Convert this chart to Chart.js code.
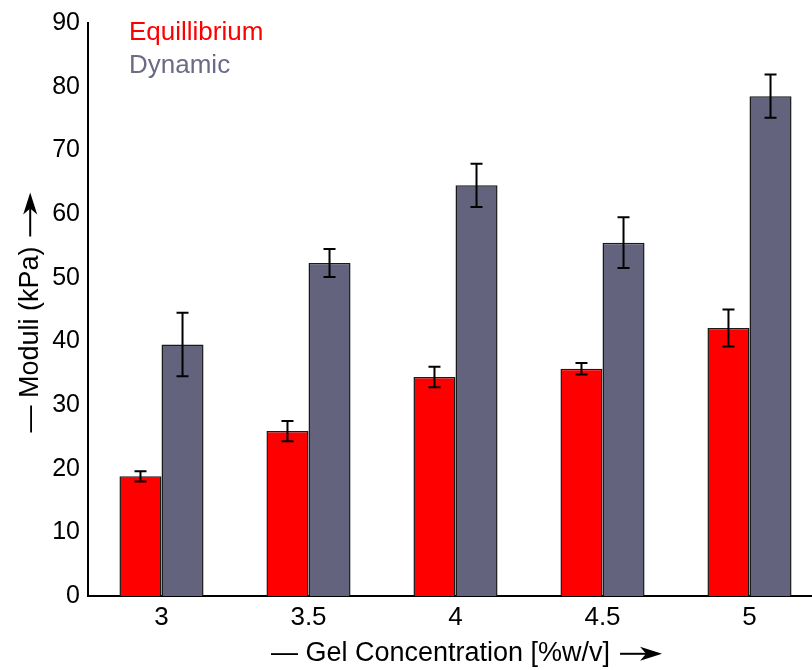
<!DOCTYPE html>
<html>
<head>
<meta charset="utf-8">
<script src="https://cdn.jsdelivr.net/npm/chart.js@4.4.0/dist/chart.umd.min.js"></script>
<style>
  html, body { margin: 0; padding: 0; background: #fff; overflow: hidden; }
  #wrap { position: relative; width: 826px; height: 670px; }
</style>
</head>
<body>
<div id="wrap"><canvas id="modChart"></canvas></div>
<script>
const concentrations = ["3", "3.5", "4", "4.5", "5"];
const equilibrium = [18.8, 25.9, 34.4, 35.7, 42.1];
const equilibriumErr = [0.8, 1.6, 1.6, 0.9, 2.9];
const dynamic = [39.5, 52.3, 64.5, 55.5, 78.5];
const dynamicErr = [5.0, 2.2, 3.4, 4.0, 3.4];
const yTicks = [0, 10, 20, 30, 40, 50, 60, 70, 80, 90];

const FONT = "'Liberation Sans', Arial, Helvetica, sans-serif";
const TITLE_SIZE = 27;
const xTitle = '    — Gel Concentration [%w/v]';
const yTitle = '— Moduli (kPa)';
const ARROW_GAP = '        '; // room left for the drawn arrow

// error bars drawn over each bar, using the chart's own scales
const errorBars = {
  id: 'errorBars',
  afterDatasetsDraw(chart) {
    const ctx = chart.ctx;
    const y = chart.scales.y;
    ctx.save();
    ctx.strokeStyle = '#000';
    ctx.lineWidth = 2;
    chart.data.datasets.forEach((ds, i) => {
      const meta = chart.getDatasetMeta(i);
      meta.data.forEach((bar, j) => {
        const v = ds.data[j], e = ds.errors[j];
        const top = y.getPixelForValue(v + e);
        const bot = y.getPixelForValue(v - e);
        const x = bar.x;
        ctx.beginPath();
        ctx.moveTo(x, top); ctx.lineTo(x, bot);
        ctx.moveTo(x - 6, top); ctx.lineTo(x + 6, top);
        ctx.moveTo(x - 6, bot); ctx.lineTo(x + 6, bot);
        ctx.stroke();
      });
    });
    ctx.restore();
  }
};

// text-only legend in the upper left of the plot
const textLegend = {
  id: 'textLegend',
  afterDraw(chart) {
    const ctx = chart.ctx;
    const a = chart.chartArea;
    ctx.save();
    ctx.font = '26px ' + FONT;
    ctx.textBaseline = 'middle';
    ctx.textAlign = 'left';
    chart.data.datasets.forEach((ds, i) => {
      ctx.fillStyle = ds.legendColor;
      ctx.fillText(ds.label, a.left + 41, 33 + i * 33);
    });
    ctx.restore();
  }
};

// arrow after each axis title
function drawArrow(ctx, len) {
  ctx.beginPath();
  ctx.moveTo(0, 0);
  ctx.lineTo(len - 14, 0);
  ctx.stroke();
  ctx.beginPath();
  ctx.moveTo(len, 0);
  ctx.lineTo(len - 22, -7);
  ctx.lineTo(len - 16, 0);
  ctx.lineTo(len - 22, 7);
  ctx.closePath();
  ctx.fill();
}

const titleArrows = {
  id: 'titleArrows',
  afterDraw(chart) {
    const ctx = chart.ctx;
    const xs = chart.scales.x, ys = chart.scales.y;
    ctx.save();
    ctx.font = TITLE_SIZE + 'px ' + FONT;
    ctx.strokeStyle = '#000';
    ctx.fillStyle = '#000';
    ctx.lineWidth = 2;
    const lh = TITLE_SIZE * 1.2;

    // x title
    let full = ctx.measureText(xTitle + ARROW_GAP).width;
    let vis = ctx.measureText(xTitle).width;
    let cx = (xs.left + xs.right) / 2;
    let cy = xs.bottom - lh / 2;
    ctx.save();
    ctx.translate(cx - full / 2 + vis + 10, cy);
    drawArrow(ctx, 42);
    ctx.restore();

    // y title (rotated, reading bottom to top)
    full = ctx.measureText(yTitle + ARROW_GAP).width;
    vis = ctx.measureText(yTitle).width;
    cx = ys.left + 14 + lh / 2;
    cy = (ys.top + ys.bottom) / 2;
    ctx.save();
    ctx.translate(cx, cy + full / 2 - vis - 10);
    ctx.rotate(-Math.PI / 2);
    drawArrow(ctx, 44);
    ctx.restore();

    ctx.restore();
  }
};

new Chart(document.getElementById('modChart'), {
  type: 'bar',
  data: {
    labels: concentrations,
    datasets: [{
      label: 'Equillibrium',
      data: equilibrium,
      errors: equilibriumErr,
      backgroundColor: '#ff0000',
      borderColor: '#1a1a1a',
      legendColor: '#ff0000',
      borderWidth: 1.5
    }, {
      label: 'Dynamic',
      data: dynamic,
      errors: dynamicErr,
      backgroundColor: '#63637e',
      borderColor: '#1a1a1a',
      legendColor: '#6b6b86',
      borderWidth: 1.5
    }]
  },
  options: {
    responsive: true,
    maintainAspectRatio: false,
    animation: false,
    layout: { padding: { top: 21, right: 3 } },
    datasets: { bar: { categoryPercentage: 0.572, barPercentage: 1.0 } },
    plugins: {
      legend: { display: false },
      tooltip: { enabled: false }
    },
    scales: {
      x: {
        grid: { display: false, drawTicks: false },
        border: { display: true, color: '#000', width: 2 },
        ticks: { color: '#000', font: { family: FONT, size: 26 }, padding: 6 },
        title: {
          display: true,
          text: xTitle + ARROW_GAP,
          color: '#000',
          font: { family: FONT, size: TITLE_SIZE },
          padding: { top: 4, bottom: 0 }
        },
        afterFit(scale) { scale.height = 74; }
      },
      y: {
        min: 0,
        max: 90,
        afterBuildTicks(scale) { scale.ticks = yTicks.map(v => ({ value: v })); },
        grid: { display: false, drawTicks: false },
        border: { display: true, color: '#000', width: 2 },
        ticks: { color: '#000', font: { family: FONT, size: 25 }, padding: 8 },
        title: {
          display: true,
          text: yTitle + ARROW_GAP,
          color: '#000',
          font: { family: FONT, size: TITLE_SIZE },
          padding: { top: 14, bottom: 4 }
        },
        afterFit(scale) { scale.width = 88; }
      }
    }
  },
  plugins: [errorBars, textLegend, titleArrows]
});
</script>
</body>
</html>
